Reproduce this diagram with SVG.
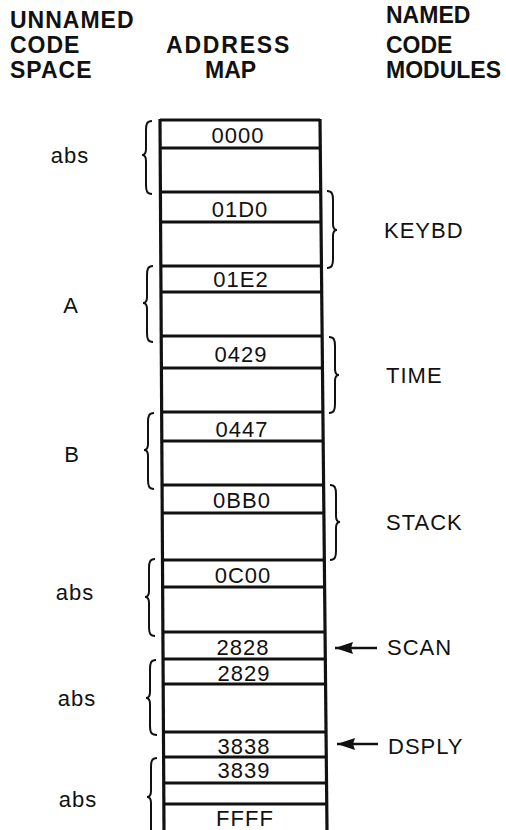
<svg xmlns="http://www.w3.org/2000/svg" width="506" height="830" viewBox="0 0 506 830">
<style>
.hd{font-family:"Liberation Sans",Arial,sans-serif;font-weight:bold;font-size:23px;letter-spacing:1px;fill:#111}
.hr{letter-spacing:0}
.lb{font-family:"Liberation Sans",Arial,sans-serif;font-size:22px;letter-spacing:1px;fill:#111}
.ad{font-family:"Liberation Sans",Arial,sans-serif;font-size:22px;letter-spacing:1px;fill:#111;text-anchor:middle}
.col{stroke:#111;stroke-width:3.2;fill:none}
.row{stroke:#111;stroke-width:3;fill:none}
.br{stroke:#111;stroke-width:2;fill:none}
.ar{stroke:#111;stroke-width:2.5;fill:none}
</style>
<defs>
<marker id="ah" markerWidth="19" markerHeight="12" refX="18" refY="6" orient="auto" markerUnits="userSpaceOnUse">
<path d="M0,0 L18,6 L0,12 L2,6 Z" fill="#111"/>
</marker>
</defs>
<rect width="506" height="830" fill="#fff"/>
<g id="headers">
<text class="hd" x="10" y="28">UNNAMED</text>
<text class="hd" x="10" y="53">CODE</text>
<text class="hd" x="10" y="78">SPACE</text>
<text class="hd" x="166" y="53" style="letter-spacing:1.8px">ADDRESS</text>
<text class="hd" x="205" y="78" style="letter-spacing:0">MAP</text>
<text class="hd hr" x="386" y="23">NAMED</text>
<text class="hd hr" x="386" y="53">CODE</text>
<text class="hd hr" x="386" y="78">MODULES</text>
</g>
<g id="address-map">
<line class="col" x1="160" y1="119" x2="164" y2="830"/>
<line class="col" x1="320" y1="119" x2="327" y2="830"/>
<line class="row" x1="160" y1="120" x2="320" y2="120"/>
<line class="row" x1="160" y1="148" x2="320" y2="148"/>
<line class="row" x1="160" y1="192" x2="321" y2="192"/>
<line class="row" x1="161" y1="222" x2="321" y2="222"/>
<line class="row" x1="161" y1="266" x2="321" y2="266"/>
<line class="row" x1="161" y1="292" x2="322" y2="292"/>
<line class="row" x1="161" y1="336" x2="322" y2="336"/>
<line class="row" x1="161" y1="368" x2="322" y2="368"/>
<line class="row" x1="162" y1="412" x2="323" y2="412"/>
<line class="row" x1="162" y1="441" x2="323" y2="441"/>
<line class="row" x1="162" y1="485" x2="324" y2="485"/>
<line class="row" x1="162" y1="513" x2="324" y2="513"/>
<line class="row" x1="162" y1="560" x2="324" y2="560"/>
<line class="row" x1="163" y1="587" x2="325" y2="587"/>
<line class="row" x1="163" y1="632" x2="325" y2="632"/>
<line class="row" x1="163" y1="659" x2="325" y2="659"/>
<line class="row" x1="163" y1="684" x2="326" y2="684"/>
<line class="row" x1="163" y1="732" x2="326" y2="732"/>
<line class="row" x1="164" y1="757" x2="326" y2="757"/>
<line class="row" x1="164" y1="783" x2="327" y2="783"/>
<line class="row" x1="164" y1="804" x2="327" y2="804"/>
</g>
<g id="addresses">
<text class="ad" x="238" y="143">0000</text>
<text class="ad" x="240" y="217">01D0</text>
<text class="ad" x="241" y="287">01E2</text>
<text class="ad" x="241" y="362">0429</text>
<text class="ad" x="242" y="437">0447</text>
<text class="ad" x="242" y="508">0BB0</text>
<text class="ad" x="243" y="583">0C00</text>
<text class="ad" x="243" y="655">2828</text>
<text class="ad" x="244" y="681">2829</text>
<text class="ad" x="244" y="754">3838</text>
<text class="ad" x="244" y="778">3839</text>
<text class="ad" x="245" y="826">FFFF</text>
</g>
<g id="unnamed-abs1">
<path class="br" d="M152,121 C147,121 146,124 146,130 L146,149 C146,153 145,155 142,155 C145,155 146,157 146,161 L146,185 C146,191 147,194 152,194"/>
<text class="lb" x="70" y="163" text-anchor="middle">abs</text>
</g>
<g id="unnamed-A">
<path class="br" d="M153,266 C148,266 147,269 147,275 L147,297 C147,301 146,303 143,303 C146,303 147,305 147,309 L147,333 C147,339 148,342 153,342"/>
<text class="lb" x="71" y="313" text-anchor="middle">A</text>
</g>
<g id="unnamed-B">
<path class="br" d="M154,413 C149,413 148,416 148,422 L148,444 C148,448 147,450 144,450 C147,450 148,452 148,456 L148,480 C148,486 149,489 154,489"/>
<text class="lb" x="72" y="462" text-anchor="middle">B</text>
</g>
<g id="unnamed-abs2">
<path class="br" d="M155,559 C150,559 149,562 149,568 L149,591 C149,595 148,597 145,597 C148,597 149,599 149,603 L149,627 C149,633 150,636 155,636"/>
<text class="lb" x="75" y="600" text-anchor="middle">abs</text>
</g>
<g id="unnamed-abs3">
<path class="br" d="M156,660 C151,660 150,663 150,669 L150,692 C150,696 149,698 146,698 C149,698 150,700 150,704 L150,726 C150,732 151,735 157,735"/>
<text class="lb" x="77" y="706" text-anchor="middle">abs</text>
</g>
<g id="unnamed-abs4">
<path class="br" d="M157,758 C152,758 151,761 151,767 L151,791 C151,795 150,797 147,797 C150,797 151,799 151,803 L151,830"/>
<text class="lb" x="78" y="807" text-anchor="middle">abs</text>
</g>
<g id="named-KEYBD">
<path class="br" d="M327,191 C332,191 333,194 333,200 L333,224 C333,228 334,230 337,230 C334,230 333,232 333,236 L333,259 C333,265 332,268 327,268"/>
<text class="lb" x="384" y="238">KEYBD</text>
</g>
<g id="named-TIME">
<path class="br" d="M329,337 C334,337 335,340 335,346 L335,369 C335,373 336,375 339,375 C336,375 335,377 335,381 L335,404 C335,410 334,413 329,413"/>
<text class="lb" x="386" y="383">TIME</text>
</g>
<g id="named-STACK">
<path class="br" d="M330,485 C335,485 336,488 336,494 L336,516 C336,520 337,522 340,522 C337,522 336,524 336,528 L336,551 C336,557 335,560 330,560"/>
<text class="lb" x="386" y="530">STACK</text>
</g>
<g id="named-SCAN">
<text class="lb" x="387" y="655">SCAN</text>
</g>
<g id="named-DSPLY">
<text class="lb" x="388" y="754">DSPLY</text>
</g>
<g id="connectors">
<line class="ar" x1="377" y1="648" x2="335" y2="648" marker-end="url(#ah)"/>
<line class="ar" x1="378" y1="744" x2="337" y2="744" marker-end="url(#ah)"/>
</g>
</svg>
